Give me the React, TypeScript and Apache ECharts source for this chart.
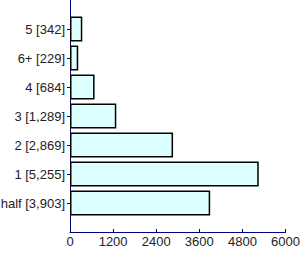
import React, { useEffect, useRef } from "react";
import * as echarts from "echarts";

const categories = ["half", "1", "2", "3", "4", "6+", "5"];
const values = [3903, 5255, 2869, 1289, 684, 229, 342];
const xTicks = [0, 1200, 2400, 3600, 4800, 6000];

export default function App() {
  const ref = useRef<HTMLDivElement>(null);
  useEffect(() => {
    if (!ref.current) return;
    const chart = echarts.init(ref.current, null, { renderer: "svg" });
    const labels = ["", ...categories.map((c, i) => `${c} [${values[i].toLocaleString("en-US")}]`), ""];
    const data = ["-", ...values, "-"];
    const font = "Liberation Sans, Arial, sans-serif";
    chart.setOption({
      animation: false,
      grid: { left: 70, right: 14.5, top: 0, bottom: 22, containLabel: false, outerBoundsMode: "none" },
      xAxis: {
        type: "value",
        min: xTicks[0],
        max: xTicks[xTicks.length - 1],
        interval: 1200,
        axisLine: { show: true, lineStyle: { color: "#000080", width: 1 } },
        axisTick: { show: true, inside: true, length: 3, lineStyle: { color: "#000080" } },
        splitLine: { show: false },
        axisLabel: { color: "#222", fontSize: 13, fontFamily: font, margin: 3, formatter: (v: number) => String(v) },
      },
      yAxis: {
        type: "category",
        data: labels,
        boundaryGap: false,
        axisLine: { show: true, lineStyle: { color: "#000080", width: 1 } },
        axisTick: {
          show: true,
          length: 3,
          interval: (idx: number) => idx > 0 && idx < labels.length - 1,
          lineStyle: { color: "#000080" },
        },
        axisLabel: {
          interval: 0,
          color: "#222",
          fontSize: 13,
          fontFamily: font,
          margin: 5,
        },
        splitLine: { show: false },
      },
      series: [
        {
          type: "bar",
          data,
          barWidth: 25,
          itemStyle: { color: "#dcffff", borderColor: "#000", borderWidth: 1.5 },
        },
      ],
    });
    return () => chart.dispose();
  }, []);
  return <div ref={ref} style={{ width: 300, height: 254, position: "absolute", left: 0, top: 0 }} />;
}
